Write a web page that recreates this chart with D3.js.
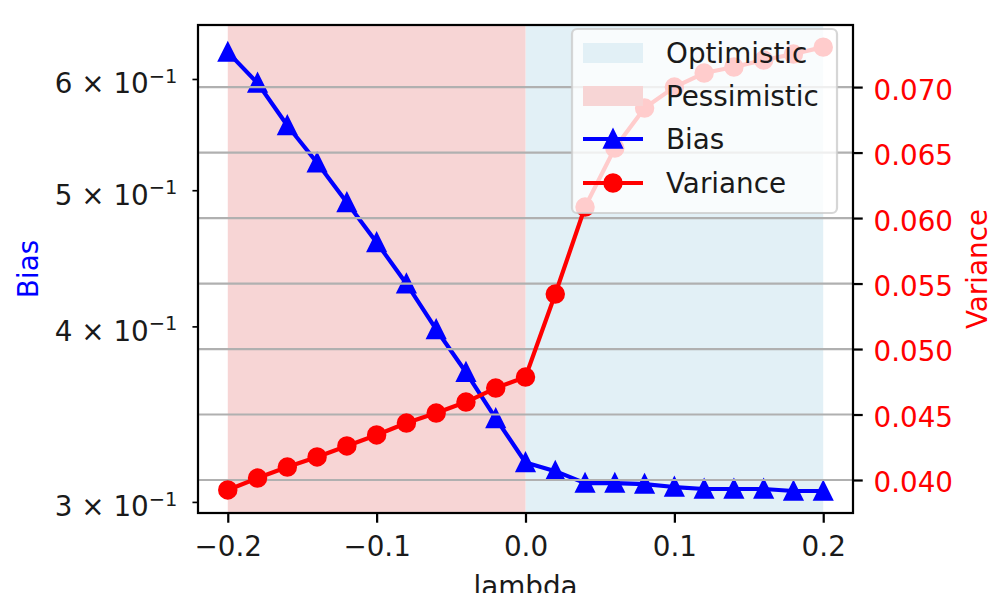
<!DOCTYPE html>
<html lang="en">
<head>
<meta charset="utf-8">
<title>Bias / Variance vs lambda</title>
<script src="https://cdn.jsdelivr.net/npm/d3@7"></script>
<style>
  body { margin: 0; background: #fff; }
  svg { display: block; font-family: "DejaVu Sans", sans-serif; }
</style>
</head>
<body>
<div id="chart"></div>
<script>
// data
const lambdas = [-0.2, -0.18, -0.16, -0.14, -0.12, -0.1, -0.08, -0.06, -0.04, -0.02,
  0, 0.02, 0.04, 0.06, 0.08, 0.1, 0.12, 0.14, 0.16, 0.18, 0.2];
const biasValues = [0.627, 0.596, 0.556, 0.523, 0.490, 0.459, 0.429, 0.398, 0.371, 0.344,
  0.320, 0.3155, 0.3094, 0.3094, 0.3089, 0.3074, 0.3064, 0.3064, 0.3064, 0.3054, 0.3054];
const varianceValues = [0.03924, 0.04015, 0.04099, 0.04176, 0.04260, 0.04344, 0.04435, 0.04511,
  0.04595, 0.04702, 0.04786, 0.05420, 0.06084, 0.06534, 0.06840, 0.07000, 0.07107, 0.07153,
  0.07206, 0.07252, 0.07305];
const xTicks = [-0.2, -0.1, 0, 0.1, 0.2];
const biasTicks = [0.3, 0.4, 0.5, 0.6];
const biasTickMantissa = ["3", "4", "5", "6"];
const varianceTicks = [0.040, 0.045, 0.050, 0.055, 0.060, 0.065, 0.070];
const spans = [
  {name: "Optimistic", from: 0, to: 0.2, color: "rgb(226,240,246)"},
  {name: "Pessimistic", from: -0.2, to: 0, color: "rgb(247,213,213)"}
];

const width = 991, height = 593;
const mLeft = 198, mRight = 853, mTop = 25, mBottom = 513;
const fs = 27.8;          // 10pt at this scale
const pt = 2.78;

const svg = d3.select("#chart").append("svg")
  .attr("width", width).attr("height", height);

const x = d3.scaleLinear().domain([-0.22, 0.22]).range([mLeft, mRight]);
const yBias = d3.scaleLog().domain([0.2946, 0.6555]).range([mBottom, mTop]);
const yVar = d3.scaleLinear().domain([0.03748, 0.07474]).range([mBottom, mTop]);

// shaded regions
svg.append("g").selectAll("rect")
  .data(spans)
  .enter().append("rect")
  .attr("x", d => x(d.from))
  .attr("width", d => x(d.to) - x(d.from))
  .attr("y", mTop)
  .attr("height", mBottom - mTop)
  .attr("fill", d => d.color);

// bias line (left axis)
const biasPts = lambdas.map((l, i) => [x(l), yBias(biasValues[i])]);
svg.append("path")
  .attr("d", d3.line()(biasPts))
  .attr("fill", "none")
  .attr("stroke", "blue")
  .attr("stroke-width", 1.5 * pt)
  .attr("stroke-linejoin", "round");

// matplotlib style triangle: width = height = s, centred on the point
const triPath = (s) => {
  const h = s / 2;
  return `M0,${-h}L${-h},${h}L${h},${h}Z`;
};
svg.append("g").selectAll("path")
  .data(biasPts)
  .enter().append("path")
  .attr("d", triPath(6 * pt))
  .attr("transform", d => `translate(${d[0]},${d[1]})`)
  .attr("fill", "blue")
  .attr("stroke", "blue")
  .attr("stroke-width", pt);

// grid of the right axis
svg.append("g").selectAll("line")
  .data(varianceTicks)
  .enter().append("line")
  .attr("x1", mLeft).attr("x2", mRight)
  .attr("y1", d => yVar(d)).attr("y2", d => yVar(d))
  .attr("stroke", "#b0b0b0")
  .attr("stroke-width", 0.8 * pt);

// variance line (right axis)
const varPts = lambdas.map((l, i) => [x(l), yVar(varianceValues[i])]);
svg.append("path")
  .attr("d", d3.line()(varPts))
  .attr("fill", "none")
  .attr("stroke", "red")
  .attr("stroke-width", 1.5 * pt)
  .attr("stroke-linejoin", "round");
svg.append("g").selectAll("circle")
  .data(varPts)
  .enter().append("circle")
  .attr("cx", d => d[0]).attr("cy", d => d[1])
  .attr("r", 3 * pt)
  .attr("fill", "red")
  .attr("stroke", "red")
  .attr("stroke-width", pt);

// frame
svg.append("rect")
  .attr("x", mLeft).attr("y", mTop)
  .attr("width", mRight - mLeft).attr("height", mBottom - mTop)
  .attr("fill", "none")
  .attr("stroke", "#000")
  .attr("stroke-width", 0.8 * pt);

// x axis
const fmtX = d => (d < 0 ? "\u2212" : "") + Math.abs(d).toFixed(1);
const xAxis = svg.append("g")
  .attr("transform", `translate(0,${mBottom})`)
  .call(d3.axisBottom(x).tickValues(xTicks).tickFormat(fmtX)
    .tickSize(3.5 * pt).tickPadding(14));
xAxis.select(".domain").remove();
xAxis.selectAll("line").attr("stroke", "#000").attr("stroke-width", 0.8 * pt);
xAxis.selectAll("text").attr("font-size", fs).attr("fill", "#1a1a1a")
  .attr("font-family", "DejaVu Sans");

// left log axis (minor ticks with labels)
const yAxisL = svg.append("g")
  .attr("transform", `translate(${mLeft},0)`)
  .call(d3.axisLeft(yBias).tickValues(biasTicks).tickFormat(() => "")
    .tickSize(2 * pt).tickPadding(9));
yAxisL.select(".domain").remove();
yAxisL.selectAll("line").attr("stroke", "#000").attr("stroke-width", 0.6 * pt);
yAxisL.selectAll(".tick text").each(function(d, i) {
  const t = d3.select(this)
    .attr("font-size", fs).attr("fill", "#1a1a1a")
    .attr("font-family", "DejaVu Sans")
    .attr("dy", null).attr("y", 14)
    .attr("x", -2 * pt - 15);
  t.append("tspan").text(biasTickMantissa[i] + " \u00d7 10");
  t.append("tspan").attr("font-size", fs * 0.7).attr("dy", -10.5).text("\u22121");
});

// right axis
const yAxisR = svg.append("g")
  .attr("transform", `translate(${mRight},0)`)
  .call(d3.axisRight(yVar).tickValues(varianceTicks).tickFormat(d3.format(".3f"))
    .tickSize(3.5 * pt).tickPadding(3.5 * pt + 1));
yAxisR.select(".domain").remove();
yAxisR.selectAll("line").attr("stroke", "#000").attr("stroke-width", 0.8 * pt);
yAxisR.selectAll("text").attr("font-size", fs).attr("fill", "red")
  .attr("font-family", "DejaVu Sans").attr("dy", "0.43em");

// axis labels
svg.append("text")
  .attr("x", (mLeft + mRight) / 2).attr("y", 596)
  .attr("text-anchor", "middle")
  .attr("font-size", fs).attr("fill", "#1a1a1a")
  .text("lambda");
svg.append("text")
  .attr("transform", `translate(38,${(mTop + mBottom) / 2}) rotate(-90)`)
  .attr("text-anchor", "middle")
  .attr("font-size", fs).attr("fill", "blue")
  .text("Bias");
svg.append("text")
  .attr("transform", `translate(987,${(mTop + mBottom) / 2}) rotate(-90)`)
  .attr("text-anchor", "middle")
  .attr("font-size", fs).attr("fill", "red")
  .text("Variance");

// legend
const lg = svg.append("g").attr("transform", "translate(572,29)");
lg.append("rect")
  .attr("width", 265).attr("height", 184)
  .attr("rx", 5).attr("ry", 5)
  .attr("fill", "#fff").attr("fill-opacity", 0.8)
  .attr("stroke", "#cccccc").attr("stroke-opacity", 0.8)
  .attr("stroke-width", 0.8 * pt);
const rowY = [24, 67, 110, 154];
const entries = [
  {label: "Optimistic", kind: "patch", color: spans[0].color},
  {label: "Pessimistic", kind: "patch", color: spans[1].color},
  {label: "Bias", kind: "tri", color: "blue"},
  {label: "Variance", kind: "circle", color: "red"}
];
entries.forEach((e, i) => {
  const g = lg.append("g").attr("transform", `translate(0,${rowY[i]})`);
  if (e.kind === "patch") {
    g.append("rect").attr("x", 11).attr("y", -10).attr("width", 60).attr("height", 20)
      .attr("fill", e.color);
  } else {
    g.append("line").attr("x1", 11).attr("x2", 71)
      .attr("stroke", e.color).attr("stroke-width", 1.5 * pt);
    if (e.kind === "tri") {
      g.append("path").attr("d", triPath(6 * pt)).attr("transform", "translate(41,0)")
        .attr("fill", e.color).attr("stroke", e.color).attr("stroke-width", pt);
    } else {
      g.append("circle").attr("cx", 41).attr("r", 3 * pt)
        .attr("fill", e.color).attr("stroke", e.color).attr("stroke-width", pt);
    }
  }
  g.append("text").attr("x", 94).attr("y", 10)
    .attr("font-size", fs).attr("fill", "#1a1a1a")
    .text(e.label);
});
</script>
</body>
</html>
